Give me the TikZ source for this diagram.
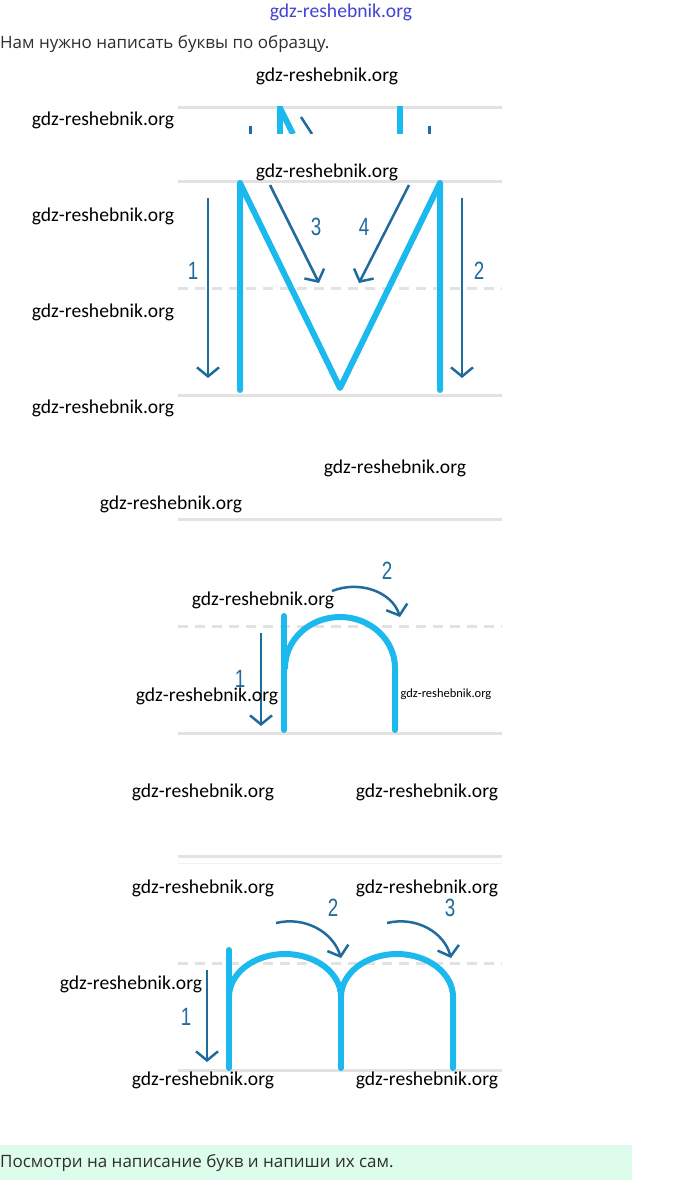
\documentclass[tikz,border=0pt]{standalone}
\usepackage{fontspec}
\setmainfont{Carlito}
\newfontfamily\uifont{Open Sans}
\newfontfamily\numfont{Liberation Sans}
\usetikzlibrary{arrows.meta}
\definecolor{lettercol}{HTML}{1CB9EE}
\definecolor{arrcol}{HTML}{1F6B9C}
\definecolor{rulecol}{HTML}{E2E2E2}
\definecolor{bandcol}{HTML}{DDFCEB}
\definecolor{wmblue}{HTML}{4444D4}
\definecolor{uitext}{HTML}{2E2E2E}
\begin{document}
\begin{tikzpicture}[x=1pt,y=-1pt,
  guide/.style={rulecol, line width=3pt},
  guidedash/.style={rulecol, line width=3pt, dash pattern=on 10pt off 7pt},
  stroke/.style={lettercol, line width=6pt, line cap=round, line join=round},
  move/.style={arrcol, line width=2.5pt, -{Straight Barb[length=9pt,width=22pt,line width=2.5pt]}},
  numlbl/.style={arrcol, font=\numfont\fontsize{25}{27}\selectfont, xscale=0.75, inner sep=0pt},
  wm/.style={black, font=\fontsize{19.6}{21}\selectfont, inner sep=0pt},
  ui/.style={uitext, font=\uifont\fontsize{17}{19}\selectfont, inner sep=0pt, anchor=west}]
\useasboundingbox[fill=white] (0,0) rectangle (680,1180);

% header
\node[wmblue, font=\fontsize{19.6}{21}\selectfont, inner sep=0pt] (topwm) at (341,12) {gdz-reshebnik.org};
\node[ui] (intro) at (0,44) {Нам нужно написать буквы по образцу.};

% section 1 (cropped fragment)
\draw[guide] (178,108) -- (502,108);
\begin{scope}
\clip (170,106) rectangle (510,134);
\draw[arrcol, line width=3pt] (250,126) -- (250,134);
\draw[lettercol, line width=6pt] (280,106) -- (280,134);
\draw[lettercol, line width=6pt] (280,108) -- (293,134);
\draw[arrcol, line width=2.5pt] (301,117) -- (312,134);
\draw[lettercol, line width=6pt] (400,106) -- (400,134);
\draw[arrcol, line width=3pt] (429,126) -- (429,134);
\end{scope}

% section 2: M
\draw[guide] (178,181) -- (502,181);
\draw[guidedash] (178,288) -- (502,288);
\draw[guide] (178,395) -- (502,395);
\coordinate (mtl) at (240,183);
\coordinate (mbl) at (240,390);
\coordinate (mv) at (340,388);
\coordinate (mtr) at (440,183);
\coordinate (mbr) at (440,390);
\draw[stroke] (mbl) -- (mtl) -- (mv) -- (mtr) -- (mbr);
\coordinate (a1s) at (208,198); \coordinate (a1e) at (208,378);
\coordinate (a2s) at (462,198); \coordinate (a2e) at (462,378);
\coordinate (a3s) at (270,185); \coordinate (a3e) at (319,283);
\coordinate (a4s) at (409,185); \coordinate (a4e) at (359,283);
\draw[move] (a1s) -- (a1e);
\draw[move] (a2s) -- (a2e);
\draw[move] (a3s) -- (a3e);
\draw[move] (a4s) -- (a4e);
\node[numlbl] (n1) at (193,271) {1};
\node[numlbl] (n2) at (479,271) {2};
\node[numlbl] (n3) at (316,227) {3};
\node[numlbl] (n4) at (364,227) {4};

% section 3: п
\draw[guide] (178,519) -- (502,519);
\draw[guidedash] (178,626) -- (502,626);
\draw[guide] (178,733) -- (502,733);
\draw[stroke] (284,616) -- (284,730);
\draw[stroke] (285,668) arc[start angle=180, end angle=360, x radius=55, y radius=51] -- (395,730);
\coordinate (b1s) at (261,633); \coordinate (b1e) at (261,726);
\coordinate (b2s) at (332,591); \coordinate (b2e) at (400,617);
\draw[move] (b1s) -- (b1e);
\draw[move] (b2s) .. controls (360,580) and (392,592) .. (b2e);
\node[numlbl] (p1) at (240,679) {1};
\node[numlbl] (p2) at (387,571) {2};

% section 4: м
\draw[guide] (178,856) -- (502,856);
\draw[rulecol!50, line width=1pt] (178,863) -- (502,863);
\draw[guidedash] (178,963) -- (502,963);
\draw[guide] (178,1070) -- (502,1070);
\draw[stroke] (229,950) -- (229,1068);
\draw[stroke] (229,997) arc[start angle=180, end angle=360, x radius=56, y radius=43];
\draw[stroke] (341,997) arc[start angle=180, end angle=360, x radius=56, y radius=43] -- (453,1068);
\draw[stroke] (341,993) -- (341,1068);
\coordinate (c1s) at (207,970); \coordinate (c1e) at (207,1062);
\coordinate (c2s) at (276,923); \coordinate (c2e) at (341,958);
\coordinate (c3s) at (387,923); \coordinate (c3e) at (451,958);
\draw[move] (c1s) -- (c1e);
\draw[move] (c2s) .. controls (305,916) and (333,932) .. (c2e);
\draw[move] (c3s) .. controls (416,916) and (444,932) .. (c3e);
\node[numlbl] (m1) at (186,1017) {1};
\node[numlbl] (m2) at (333,908) {2};
\node[numlbl] (m3) at (450,908) {3};

% watermarks
\node[wm] (w1) at (327,76) {gdz-reshebnik.org};
\node[wm] (w2) at (103,120) {gdz-reshebnik.org};
\node[wm] (w3) at (327,172) {gdz-reshebnik.org};
\node[wm] (w4) at (103,216) {gdz-reshebnik.org};
\node[wm] (w5) at (103,312) {gdz-reshebnik.org};
\node[wm] (w6) at (103,408) {gdz-reshebnik.org};
\node[wm] (w7) at (395,468) {gdz-reshebnik.org};
\node[wm] (w8) at (171,504) {gdz-reshebnik.org};
\node[wm] (w9) at (263,600) {gdz-reshebnik.org};
\node[wm] (w10) at (207,696) {gdz-reshebnik.org};
\node[black, font=\fontsize{12.5}{13}\selectfont, inner sep=0pt] (w11) at (446,694) {gdz-reshebnik.org};
\node[wm] (w12) at (203,792) {gdz-reshebnik.org};
\node[wm] (w13) at (427,792) {gdz-reshebnik.org};
\node[wm] (w14) at (203,888) {gdz-reshebnik.org};
\node[wm] (w15) at (427,888) {gdz-reshebnik.org};
\node[wm] (w16) at (131,984) {gdz-reshebnik.org};
\node[wm] (w17) at (203,1080) {gdz-reshebnik.org};
\node[wm] (w18) at (427,1080) {gdz-reshebnik.org};

% bottom band
\fill[bandcol] (0,1145) rectangle (632,1180);
\node[ui] (outro) at (0,1163) {Посмотри на написание букв и напиши их сам.};
\end{tikzpicture}
\end{document}
